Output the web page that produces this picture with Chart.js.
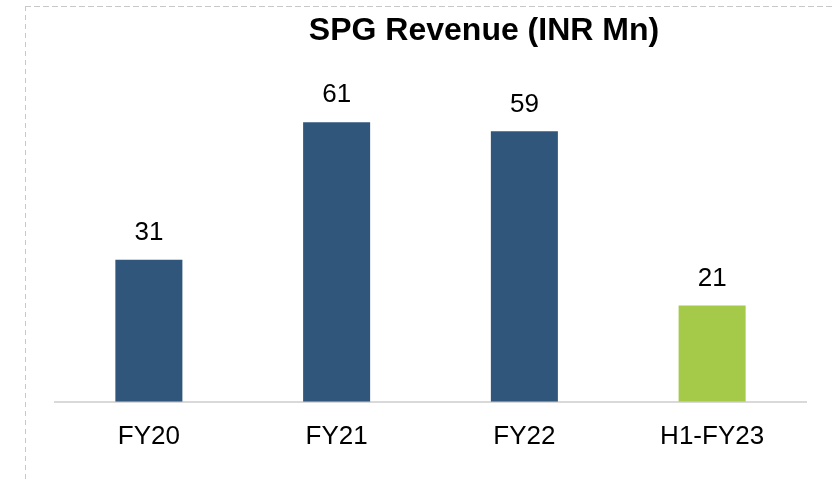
<!DOCTYPE html>
<html>
<head>
<meta charset="utf-8">
<script src="https://cdn.jsdelivr.net/npm/chart.js@4.4.0/dist/chart.umd.min.js"></script>
<style>
    html, body { margin: 0; padding: 0; background: #fff; }
    #wrap { width: 833px; height: 481px; position: relative; }
</style>
</head>
<body>
<div id="wrap"><canvas id="chart" width="833" height="481"></canvas></div>
<script>
// data
const categories = ['FY20', 'FY21', 'FY22', 'H1-FY23'];
const revenue = [31, 61, 59, 21];
const barColors = ['#30567B', '#30567B', '#30567B', '#A5CA4A'];
const chartTitle = 'SPG Revenue (INR Mn)';

// dashed frame around the picture + title
const framePlugin = {
    id: 'frame',
    beforeDraw(chart) {
        const ctx = chart.ctx;
        ctx.save();
        ctx.strokeStyle = '#c8c8c8';
        ctx.lineWidth = 1;
        ctx.setLineDash([6, 3]);
        ctx.beginPath();
        ctx.moveTo(25, 6.5);
        ctx.lineTo(833, 6.5);
        ctx.stroke();
        ctx.setLineDash([5, 4]);
        ctx.beginPath();
        ctx.moveTo(25.5, 6);
        ctx.lineTo(25.5, 481);
        ctx.stroke();
        ctx.restore();
    },
    afterDraw(chart) {
        const ctx = chart.ctx;
        ctx.save();
        ctx.fillStyle = '#000';
        ctx.font = 'bold 32px "Liberation Sans", Arial, sans-serif';
        ctx.textAlign = 'center';
        ctx.textBaseline = 'middle';
        ctx.fillText(chartTitle, 484, 31);
        ctx.restore();
    }
};

// value labels on top of the bars
const valueLabels = {
    id: 'valueLabels',
    afterDatasetsDraw(chart) {
        const ctx = chart.ctx;
        const meta = chart.getDatasetMeta(0);
        ctx.save();
        ctx.fillStyle = '#000';
        ctx.font = '26px "Liberation Sans", Arial, sans-serif';
        ctx.textAlign = 'center';
        ctx.textBaseline = 'middle';
        meta.data.forEach((bar, i) => {
            ctx.fillText(String(revenue[i]), bar.x, bar.y - 27);
        });
        ctx.restore();
    }
};

new Chart(document.getElementById('chart'), {
    type: 'bar',
    data: {
        labels: categories,
        datasets: [{
            data: revenue,
            backgroundColor: barColors,
            borderWidth: 0,
            barPercentage: 0.357,
            categoryPercentage: 1
        }]
    },
    options: {
        responsive: false,
        animation: false,
        layout: { padding: { left: 55, right: 27, top: 58, bottom: 18 } },
        plugins: {
            legend: { display: false },
            tooltip: { enabled: false }
        },
        scales: {
            x: {
                grid: { display: false },
                border: { display: true, color: '#d9d9d9', width: 2 },
                ticks: {
                    color: '#000',
                    padding: 11,
                    font: { size: 26, family: '"Liberation Sans", Arial, sans-serif' }
                }
            },
            y: {
                display: false,
                min: 0,
                max: 75
            }
        }
    },
    plugins: [framePlugin, valueLabels]
});
</script>
</body>
</html>
